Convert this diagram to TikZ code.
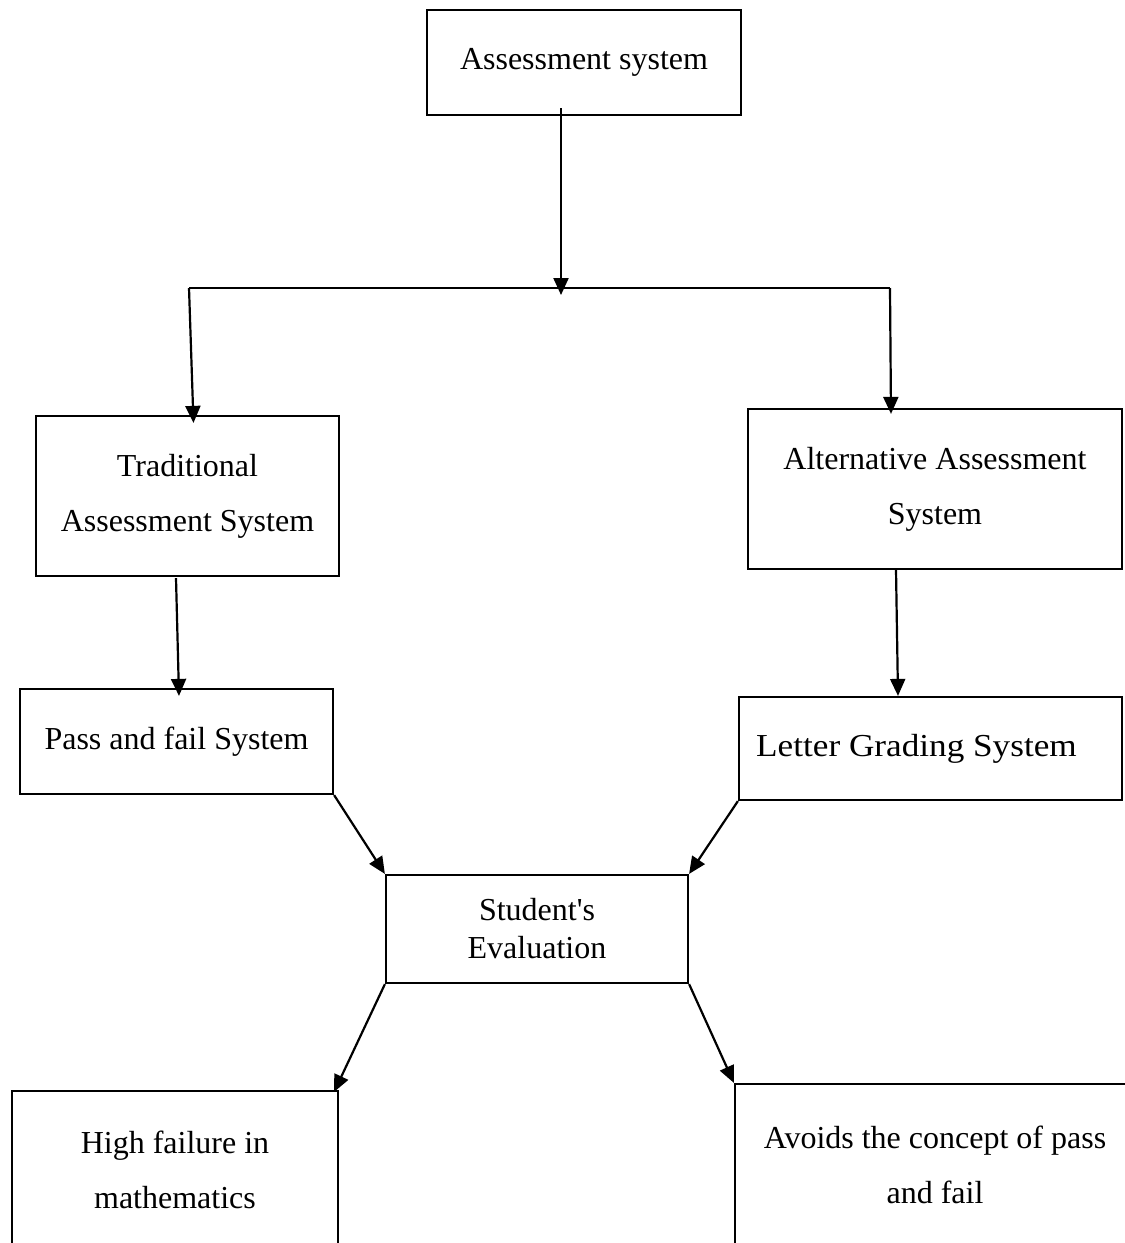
\documentclass[tikz,border=0pt]{standalone}
\usepackage{fontspec}
\setmainfont{Liberation Serif}
\newfontfamily\widefont{Liberation Serif}[FakeStretch=1.1]
\usetikzlibrary{arrows.meta}
\usetikzlibrary{calc}

\begin{document}
\begin{tikzpicture}[x=1pt, y=-1pt,
    box/.style={draw, line width=2.2pt, align=center, inner sep=0pt,
        font=\fontsize{32}{55}\selectfont},
    arr/.style={line width=2.2pt, -{Triangle[width=15pt,length=17pt]}}]
    \clip (0,0) rectangle (1125,1243);
    \node[box, minimum width=314pt, minimum height=105pt] (assess) at (584,62.5) {Assessment system};
    \node[box, minimum width=303pt, minimum height=160pt] (trad) at (187.5,496) {Traditional\\Assessment System};
    \node[box, minimum width=374pt, minimum height=160pt] (alt) at (935,489) {Alternative Assessment\\System};
    \node[box, minimum width=313pt, minimum height=105pt] (pass) at (176.5,741.5) {Pass and fail System};
    \node[box, minimum width=383pt, minimum height=103pt] (letter) at (930.5,748.5) {\widefont Letter Grading System\hspace{28pt}};
    \node[box, minimum width=302pt, minimum height=108pt, font=\fontsize{32}{38}\selectfont] (student) at (537,929) {Student\textquotesingle s\\Evaluation};
    \node[box, minimum width=326pt, minimum height=158pt] (fail) at (175,1170) {High failure in\\mathematics};
    \node[box, minimum width=400pt, minimum height=162pt] (avoid) at (935,1165) {Avoids the concept of pass\\and fail};
    % branch
    \coordinate (split) at (561,288);
    \coordinate (lsplit) at (189,288);
    \coordinate (rsplit) at (890,288);
    \draw[arr] ($(assess.south)+(-23,-8)$) -- ($(split)+(0,7)$);
    \draw[line width=2.2pt] (lsplit) -- (rsplit);
    \draw[arr] (lsplit) -- ($(trad.north)+(6,8)$);
    \draw[arr] (rsplit) -- ($(alt.north)+(-44,6)$);
    \draw[arr] ($(trad.south)+(-11.5,1)$) -- ($(pass.north)+(2.5,8)$);
    \draw[arr] ($(alt.south)+(-39,-1)$) -- ($(letter.north)+(-32.5,0)$);
    % towards the evaluation
    \draw[arr] (pass.south east) -- (student.north west);
    \draw[arr] (letter.south west) -- (student.north east);
    \draw[arr] (student.south west) -- ($(fail.north east)+(-5,2)$);
    \draw[arr] (student.south east) -- (avoid.north west);
\end{tikzpicture}
\end{document}
